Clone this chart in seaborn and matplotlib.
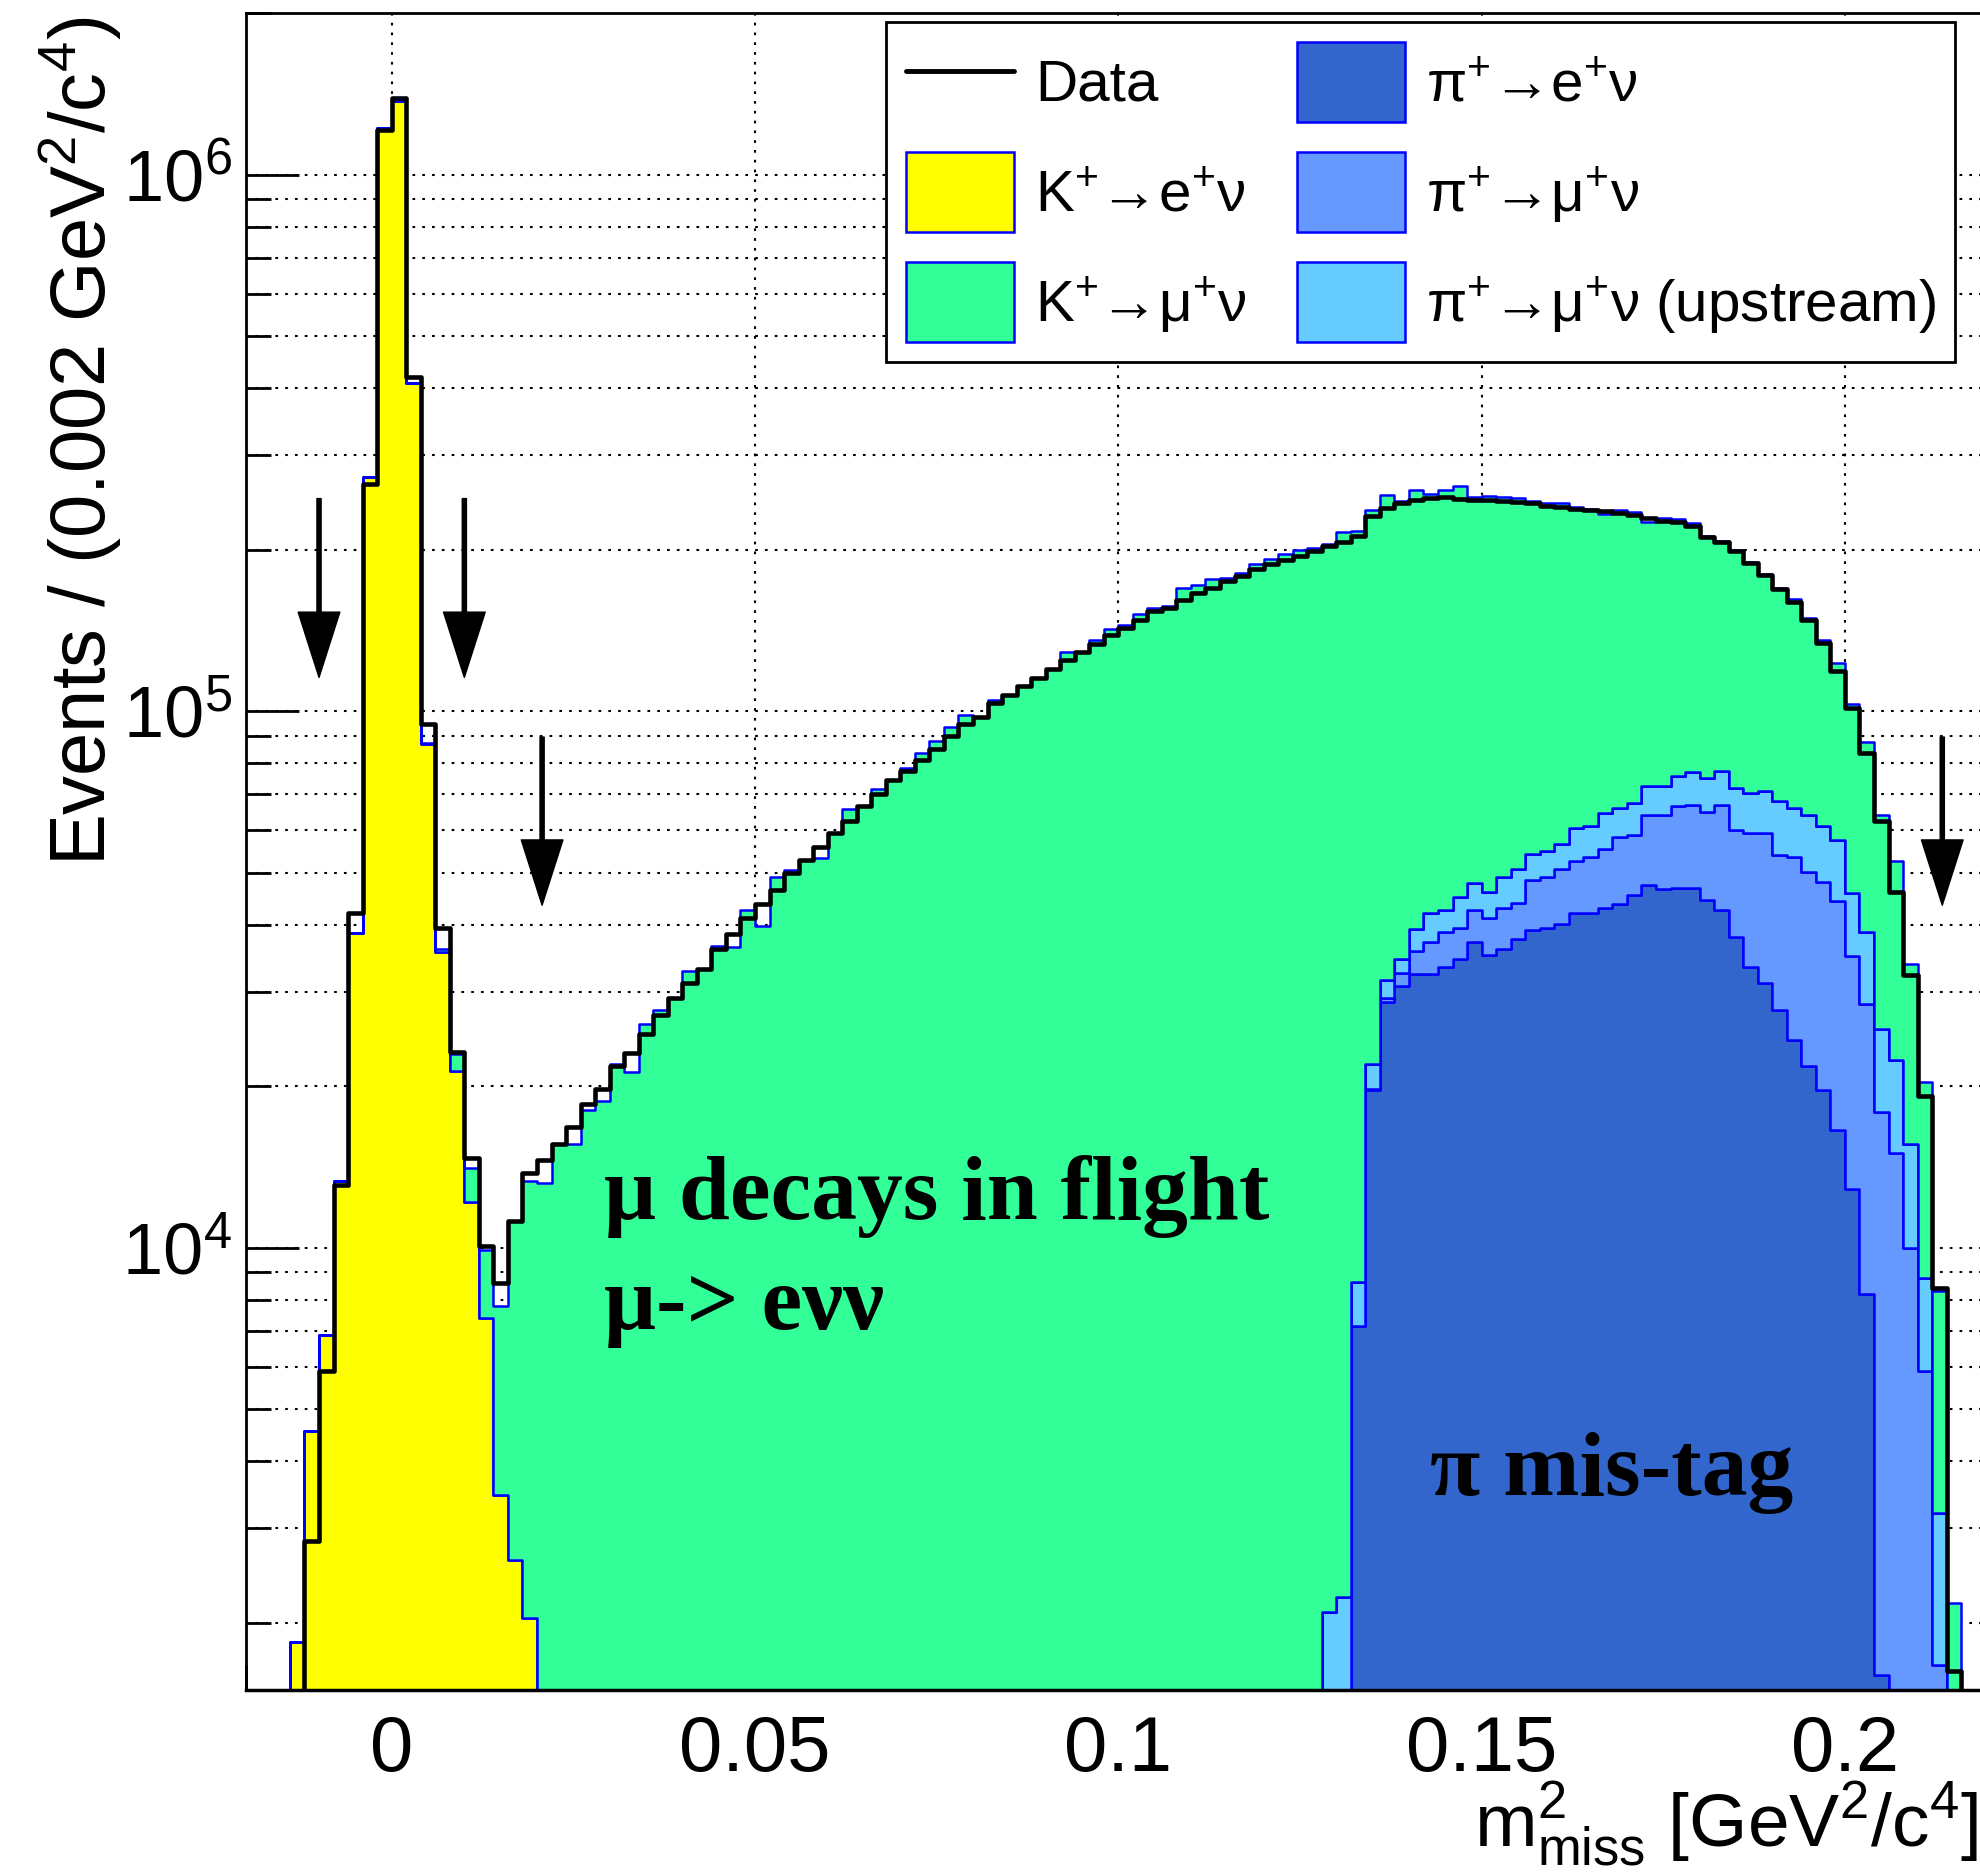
import numpy as np
import pandas as pd
import matplotlib
matplotlib.use("Agg")
import matplotlib.pyplot as plt
from matplotlib.patches import Patch
from matplotlib.lines import Line2D
from matplotlib.ticker import MultipleLocator, LogLocator, NullFormatter, FuncFormatter
import seaborn as sns

# ---------------------------------------------------------------- binning
BIN_W = 0.002
X_LO, X_HI = -0.020, 0.220

# ---------------------------------------------------------------- data (events per bin)
# each series: lower edge of its first bin, then consecutive bin contents
DATA_FIRST = -0.012
data_counts = [
    2840, 5890, 13100, 42000, 265000, 1210000, 1390000, 419000, 94600, 39400,
    23200, 14700, 10060, 8590, 11200, 13800, 14600, 15600, 16800, 18500,
    19800, 21800, 23100, 25000, 27100, 29200, 31100, 33100, 36100, 38500,
    41100, 43800, 46500, 49900, 52700, 55800, 59300, 62500, 66600, 70200,
    74400, 77300, 81200, 85100, 89800, 94700, 97700, 103500, 107000, 111600,
    115200, 119700, 124500, 129000, 133500, 138500, 142600, 147700, 153600, 156000,
    161000, 166000, 170000, 175000, 179000, 184000, 188000, 191000, 195000, 199000,
    203000, 207000, 212000, 231000, 239000, 244000, 247000, 250000, 251000, 249000,
    248000, 247000, 246000, 245000, 244000, 241000, 240000, 238000, 237000, 236000,
    234000, 232000, 229000, 226000, 225000, 221000, 211000, 207000, 199000, 189000,
    179500, 169000, 160000, 148000, 134000, 119000, 101500, 83500, 62500, 46000,
    32300, 19200, 8425, 1626,
]

KE2_FIRST = -0.014
ke2_counts = [
    1840, 4550, 6890, 13300, 38600, 273000, 1220000, 1370000, 409000, 86800,
    35600, 21400, 12200, 7390, 3470, 2620, 2040,
]

KMU2_FIRST = 0.004
kmu2_counts = [
    300, 500, 1600, 1900, 2510, 4310, 8580, 11260, 13200, 15600,
    15600, 18100, 18800, 22000, 21300, 26100, 27800, 29200, 32800, 33100,
    36500, 36300, 42600, 39800, 49200, 50500, 52700, 53200, 59300, 65800,
    66600, 71600, 74400, 78500, 83600, 88000, 93500, 98400, 97700, 105000,
    107000, 111600, 115200, 120000, 129000, 129000, 135500, 142000, 145000, 152000,
    156000, 157000, 170000, 172000, 176000, 177000, 181000, 188000, 192000, 196000,
    200000, 201000, 202900, 213800, 208300, 215000, 221500, 211400, 218800, 211900,
    215300, 217900, 203200, 205900, 202000, 199100, 191800, 189100, 187500, 179500,
    177000, 168300, 171100, 167700, 152500, 156500, 152300, 146800, 136800, 130500,
    128200, 119700, 109000, 101900, 95900, 85000, 75000, 65500, 57100, 48700,
    38400, 30200, 18200, 11600, 5100, 2180,
]

PIE2_FIRST = 0.132
pie2_counts = [
    7140, 19700, 28700, 30700, 32400, 32400, 33400, 34600, 37200, 35100,
    36100, 37700, 39100, 39400, 40100, 42000, 42000, 42900, 43800, 45400,
    47400, 46700, 46900, 46900, 44500, 42700, 38000, 33400, 31100, 27700,
    24400, 21800, 19700, 16600, 12900, 8200, 1600,
]

PIMU2_FIRST = 0.134
pimu2_counts = [
    100, 500, 1800, 3300, 4700, 5300, 4900, 5500, 6000, 6800,
    6300, 9300, 9700, 10800, 10600, 11500, 12400, 14500, 13300, 16600,
    17300, 19600, 20000, 20500, 24300, 22000, 26000, 28200, 26200, 29100,
    28400, 28400, 27700, 22100, 20300, 16300, 15000, 10000, 5900, 1670,
]

PIMU2UP_FIRST = 0.128
pimu2up_counts = [
    2100, 2240, 1510, 2200, 2350, 2100, 3500, 5000, 4000, 5600,
    5100, 5000, 6100, 6900, 5800, 5800, 5600, 7900, 7500, 9400,
    7600, 8600, 8500, 8500, 9200, 10300, 10200, 10500, 11800, 10900,
    11700, 14200, 12600, 13800, 12900, 13200, 10900, 10300, 7700, 7400,
    5600, 2900, 1530,
]

LAB_DATA = "Data"
LAB_KE2 = "K$^{+}$→e$^{+}$ν"
LAB_KMU2 = "K$^{+}$→μ$^{+}$ν"
LAB_PIE2 = "π$^{+}$→e$^{+}$ν"
LAB_PIMU2 = "π$^{+}$→μ$^{+}$ν"
LAB_PIMU2UP = "π$^{+}$→μ$^{+}$ν (upstream)"

COLOURS = {
    LAB_KE2: "#ffff00",
    LAB_KMU2: "#33ff99",
    LAB_PIE2: "#3366cc",
    LAB_PIMU2: "#6699ff",
    LAB_PIMU2UP: "#66ccff",
}
EDGE_BLUE = "#0000ff"

# seaborn stacks the first hue level on top
STACK_ORDER = [LAB_KMU2, LAB_KE2, LAB_PIMU2UP, LAB_PIMU2, LAB_PIE2]

# cut positions marked with arrows: x, arrow tail, arrow tip (events)
cut_x = [-0.010, 0.010, 0.0207, 0.2134]
cut_tail = [2.49e5, 2.49e5, 8.95e4, 8.95e4]
cut_tip = [1.156e5, 1.156e5, 4.35e4, 4.35e4]

# ---------------------------------------------------------------- style
sns.set_style("ticks")
plt.rcParams["font.family"] = ["Liberation Sans", "DejaVu Sans"]
plt.rcParams["mathtext.fontset"] = "custom"
plt.rcParams["mathtext.rm"] = "Liberation Sans"
plt.rcParams["mathtext.it"] = "Liberation Sans:italic"
plt.rcParams["mathtext.bf"] = "Liberation Sans:bold"
plt.rcParams["mathtext.default"] = "regular"
for key in ("axes.edgecolor", "xtick.color", "ytick.color", "text.color",
            "axes.labelcolor"):
    plt.rcParams[key] = "black"

W, H = 1981, 1875
fig = plt.figure(figsize=(W / 100, H / 100), dpi=100)
ax = fig.add_axes([246 / W, 1 - 1690 / H, 1 - 246 / W, (1690 - 13) / H])


def binned(first_edge, counts, label):
    counts = np.asarray(counts, dtype=float)
    centres = first_edge + BIN_W * (np.arange(len(counts)) + 0.5)
    return pd.DataFrame({"m2": centres, "n": counts, "process": label})


edges = list(np.linspace(X_LO, X_HI, int(round((X_HI - X_LO) / BIN_W)) + 1))

mc = pd.concat([
    binned(KE2_FIRST, ke2_counts, LAB_KE2),
    binned(KMU2_FIRST, kmu2_counts, LAB_KMU2),
    binned(PIE2_FIRST, pie2_counts, LAB_PIE2),
    binned(PIMU2_FIRST, pimu2_counts, LAB_PIMU2),
    binned(PIMU2UP_FIRST, pimu2up_counts, LAB_PIMU2UP),
], ignore_index=True)
data = binned(DATA_FIRST, data_counts, LAB_DATA)

# stacked simulation
sns.histplot(data=mc, x="m2", weights="n", hue="process", hue_order=STACK_ORDER,
             palette=COLOURS, bins=edges, multiple="stack", element="step",
             fill=True, alpha=1, edgecolor=EDGE_BLUE, linewidth=1.8,
             legend=False, ax=ax)

# data histogram outline
sns.histplot(data=data, x="m2", weights="n", bins=edges, element="step",
             fill=False, color="black", linewidth=3.3, ax=ax, zorder=4)

ax.set_yscale("log")
ax.set_xlim(-0.02005, 0.21873)
ax.set_ylim(1500, 2.0e6)
ax.set_xlabel("")
ax.set_ylabel("")

# axes, ticks, grid
ax.xaxis.set_major_locator(MultipleLocator(0.05))
ax.xaxis.set_minor_locator(MultipleLocator(0.01))
ax.xaxis.set_major_formatter(FuncFormatter(lambda v, p: f"{v:g}"))
ax.yaxis.set_major_locator(LogLocator(base=10, numticks=20))
ax.yaxis.set_minor_locator(LogLocator(base=10, subs=np.arange(2, 10), numticks=20))
ax.yaxis.set_minor_formatter(NullFormatter())

ax.tick_params(axis="both", which="both", direction="in", width=2, colors="black")
ax.tick_params(axis="x", which="major", length=36, pad=17, labelsize=56)
ax.tick_params(axis="x", which="minor", length=18)
ax.tick_params(axis="y", which="major", length=38, pad=10, labelsize=52)
ax.tick_params(axis="y", which="minor", length=18)
ax.tick_params(top=False, right=False)

ax.set_axisbelow(True)
dots = (0, (1.3, 3.4))
ax.xaxis.grid(True, which="major", color="black", linestyle=dots, linewidth=1.5)
ax.yaxis.grid(True, which="both", color="black", linestyle=dots, linewidth=1.5)

ax.spines["right"].set_visible(False)
for side in ("left", "top"):
    ax.spines[side].set_linewidth(2)
ax.spines["bottom"].set_linewidth(2.5)

# cut arrows
for x, y0, y1 in zip(cut_x, cut_tail, cut_tip):
    ax.annotate("", xy=(x, y1), xytext=(x, y0), xycoords="data",
                arrowprops=dict(facecolor="black", edgecolor="black", width=3.0,
                                headwidth=30, headlength=47, shrink=0),
                zorder=6)

# region labels
serif = ["Liberation Serif", "DejaVu Serif"]
ax.text(0.0292, 1.13e4, "μ decays in flight", family=serif, fontweight="bold",
        fontsize=66, ha="left", va="baseline", zorder=5)
ax.text(0.0292, 7.06e3, "μ-> eνν", family=serif, fontweight="bold",
        fontsize=66, ha="left", va="baseline", zorder=5)
ax.text(0.1429, 3.47e3, "π mis-tag", family=serif, fontweight="bold",
        fontsize=66, ha="left", va="baseline", zorder=5)

# axis titles
fig.text(80 / W, 1 - 16 / H, "Events / (0.002 GeV$^{2}$/c$^{4}$)", rotation=90,
         ha="center", va="top", fontsize=56)
fig.text(1474 / W, 1 - 1847 / H, "$m^{2}_{miss}$ [GeV$^{2}$/c$^{4}$]",
         ha="left", va="baseline", fontsize=54)

# legend
handles = [
    Line2D([], [], color="black", linewidth=3.5, label=LAB_DATA),
    Patch(facecolor=COLOURS[LAB_KE2], edgecolor=EDGE_BLUE, linewidth=1.8, label=LAB_KE2),
    Patch(facecolor=COLOURS[LAB_KMU2], edgecolor=EDGE_BLUE, linewidth=1.8, label=LAB_KMU2),
    Patch(facecolor=COLOURS[LAB_PIE2], edgecolor=EDGE_BLUE, linewidth=1.8, label=LAB_PIE2),
    Patch(facecolor=COLOURS[LAB_PIMU2], edgecolor=EDGE_BLUE, linewidth=1.8, label=LAB_PIMU2),
    Patch(facecolor=COLOURS[LAB_PIMU2UP], edgecolor=EDGE_BLUE, linewidth=1.8, label=LAB_PIMU2UP),
]
leg = ax.legend(handles=handles, ncol=2, loc="upper left",
                bbox_to_anchor=(886 / W, 1 - 22 / H), bbox_transform=fig.transFigure,
                frameon=True, fancybox=False, edgecolor="black", framealpha=1,
                fontsize=42, handlelength=1.85, handleheight=1.73, handletextpad=0.36,
                labelspacing=0.52, columnspacing=0.86, borderpad=0.34, borderaxespad=0)
leg.get_frame().set_linewidth(2)
leg.set_zorder(10)

fig.savefig("out.png", dpi=100)
